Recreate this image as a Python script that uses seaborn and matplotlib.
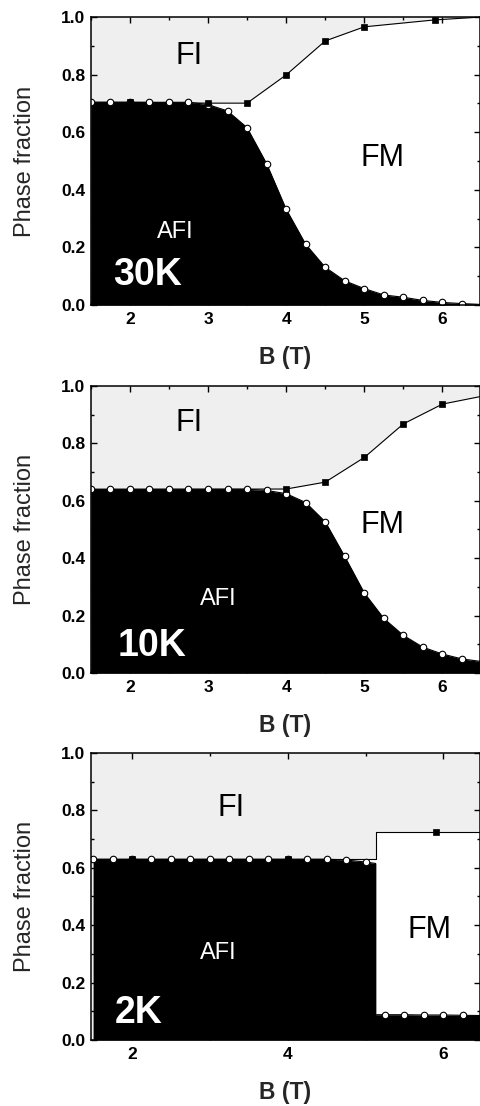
import numpy as np
import pandas as pd
import matplotlib
matplotlib.use("Agg")
import matplotlib.pyplot as plt
from matplotlib.ticker import MultipleLocator
import seaborn as sns

# ---------------- data ----------------
# 30 K
B_afi_30 = [1.5, 1.75, 2.0, 2.25, 2.5, 2.75, 3.0, 3.25, 3.5, 3.75, 4.0, 4.25,
            4.5, 4.75, 5.0, 5.25, 5.5, 5.75, 6.0, 6.25, 6.5]
afi_30 = [0.704, 0.704, 0.704, 0.704, 0.704, 0.704, 0.696, 0.674, 0.616, 0.491,
          0.333, 0.211, 0.131, 0.084, 0.057, 0.035, 0.027, 0.016, 0.009, 0.005, 0.002]
B_top_30 = [1.5, 2.0, 3.0, 3.5, 4.0, 4.5, 5.0, 5.9, 6.5]
top_30 = [0.704, 0.704, 0.701, 0.701, 0.799, 0.917, 0.966, 0.99, 1.0]

# 10 K
B_afi_10 = [1.5, 1.75, 2.0, 2.25, 2.5, 2.75, 3.0, 3.25, 3.5, 3.75, 4.0, 4.25,
            4.5, 4.75, 5.0, 5.25, 5.5, 5.75, 6.0, 6.25, 6.5]
afi_10 = [0.64, 0.64, 0.64, 0.64, 0.64, 0.64, 0.64, 0.64, 0.64, 0.636,
          0.625, 0.594, 0.527, 0.406, 0.279, 0.19, 0.131, 0.09, 0.066, 0.049, 0.04]
B_top_10 = [1.5, 4.0, 4.5, 5.0, 5.5, 6.0, 6.5]
top_10 = [0.64, 0.641, 0.665, 0.751, 0.868, 0.937, 0.964]

# 2 K
B_afi_2 = [1.5, 1.75, 2.0, 2.25, 2.5, 2.75, 3.0, 3.25, 3.5, 3.75, 4.0, 4.25,
           4.5, 4.75, 5.0, 5.13, 5.13, 5.25, 5.5, 5.75, 6.0, 6.25, 6.5]
afi_2 = [0.63, 0.63, 0.63, 0.63, 0.63, 0.63, 0.63, 0.63, 0.63, 0.63, 0.63, 0.63,
         0.63, 0.627, 0.62, 0.615, 0.088, 0.088, 0.088, 0.087, 0.087, 0.086, 0.085]
afi_2_marked = [i for i in range(len(B_afi_2)) if i not in (15, 16, 22)]
B_top_2 = [1.5, 2.0, 4.0, 5.13, 5.13, 5.9, 6.5]
top_2 = [0.63, 0.63, 0.63, 0.63, 0.726, 0.726, 0.726]

panels = [
    dict(B_afi=B_afi_30, afi=afi_30, afi_mk=list(range(20)),
         B_top=B_top_30, top=top_30, top_mk=[1, 2, 3, 4, 5, 6, 7],
         xlim=(1.5, 6.48), xmajor=1, xminor=0.5, label="30K",
         txt=dict(FI=(2.76, 0.865), FM=(5.23, 0.512), AFI=(2.58, 0.253), T=(2.23, 0.104))),
    dict(B_afi=B_afi_10, afi=afi_10, afi_mk=list(range(20)),
         B_top=B_top_10, top=top_10, top_mk=[1, 2, 3, 4, 5],
         xlim=(1.5, 6.48), xmajor=1, xminor=0.5, label="10K",
         txt=dict(FI=(2.76, 0.871), FM=(5.23, 0.516), AFI=(3.13, 0.258), T=(2.29, 0.094))),
    dict(B_afi=B_afi_2, afi=afi_2, afi_mk=afi_2_marked,
         B_top=B_top_2, top=top_2, top_mk=[1, 2, 5],
         xlim=(1.47, 6.47), xmajor=2, xminor=1, label="2K",
         txt=dict(FI=(3.27, 0.808), FM=(5.82, 0.383), AFI=(3.11, 0.303), T=(2.08, 0.094))),
]

# ---------------- style ----------------
sns.set_theme(style="ticks")
plt.rcParams["font.family"] = ["Liberation Sans", "DejaVu Sans"]
plt.rcParams["axes.linewidth"] = 1.1

fig = plt.figure(figsize=(4.8, 11.06), dpi=100)
rects = [
    [0.189, 0.7242, 0.811, 0.2604],
    [0.189, 0.3915, 0.811, 0.2595],
    [0.189, 0.0597, 0.811, 0.2595],
]
GREY = "#efefef"

for p, r in zip(panels, rects):
    ax = fig.add_axes(r)
    ax.set_facecolor(GREY)
    ax.set_xlim(*p["xlim"])
    ax.set_ylim(0, 1.0)

    # regions: FI (grey background), FM (white), AFI (black)
    ax.fill_between(p["B_top"], 0, p["top"], color="white", lw=0, zorder=1)
    ax.fill_between(p["B_afi"], 0, p["afi"], color="black", lw=0, zorder=2)

    # boundary lines
    sns.lineplot(x=p["B_top"], y=p["top"], estimator=None, sort=False,
                 color="black", lw=0.8, ax=ax, zorder=3)
    sns.lineplot(x=p["B_afi"], y=p["afi"], estimator=None, sort=False,
                 color="black", lw=0.8, ax=ax, zorder=3)

    # markers
    bx = [p["B_afi"][i] for i in p["afi_mk"]]
    by = [p["afi"][i] for i in p["afi_mk"]]
    sns.scatterplot(x=bx, y=by, marker="o", s=22, color="white",
                    edgecolor="black", linewidth=0.8, ax=ax, zorder=4)
    tx = [p["B_top"][i] for i in p["top_mk"]]
    ty = [p["top"][i] for i in p["top_mk"]]
    sns.scatterplot(x=tx, y=ty, marker="s", s=22, color="black",
                    edgecolor="black", linewidth=0.5, ax=ax, zorder=5)

    # texts
    t = p["txt"]
    ax.text(*t["FI"], "FI", fontsize=22, color="black", ha="center", va="center", zorder=6)
    ax.text(*t["FM"], "FM", fontsize=22, color="black", ha="center", va="center", zorder=6)
    ax.text(*t["AFI"], "AFI", fontsize=17, color="white", ha="center", va="center", zorder=6)
    ax.text(*t["T"], p["label"], fontsize=27, fontweight="bold", color="white",
            ha="center", va="center", zorder=6)

    # axes styling
    ax.xaxis.set_major_locator(MultipleLocator(p["xmajor"]))
    ax.xaxis.set_minor_locator(MultipleLocator(p["xminor"]))
    ax.yaxis.set_major_locator(MultipleLocator(0.2))
    ax.yaxis.set_minor_locator(MultipleLocator(0.1))
    ax.yaxis.set_major_formatter(matplotlib.ticker.FormatStrFormatter("%.1f"))
    ax.tick_params(which="both", direction="in", top=True, right=True,
                   bottom=True, left=True, width=1.0, colors="black")
    ax.tick_params(which="major", length=4.3)
    ax.tick_params(axis="x", which="major", pad=5)
    ax.tick_params(axis="y", which="major", pad=4)
    ax.tick_params(which="minor", length=2.5)
    for lab in ax.get_xticklabels() + ax.get_yticklabels():
        lab.set_fontweight("bold")
        lab.set_fontsize(12.5)
    for s in ax.spines.values():
        s.set_visible(True)
        s.set_color("black")
        s.set_linewidth(1.1)
        s.set_zorder(10)
    ax.set_axisbelow(False)
    ax.set_xlabel("B (T)", fontsize=16.5, fontweight="bold", labelpad=14)
    ax.set_ylabel("Phase fraction", fontsize=17, labelpad=18)

fig.savefig("out.png", dpi=100)
